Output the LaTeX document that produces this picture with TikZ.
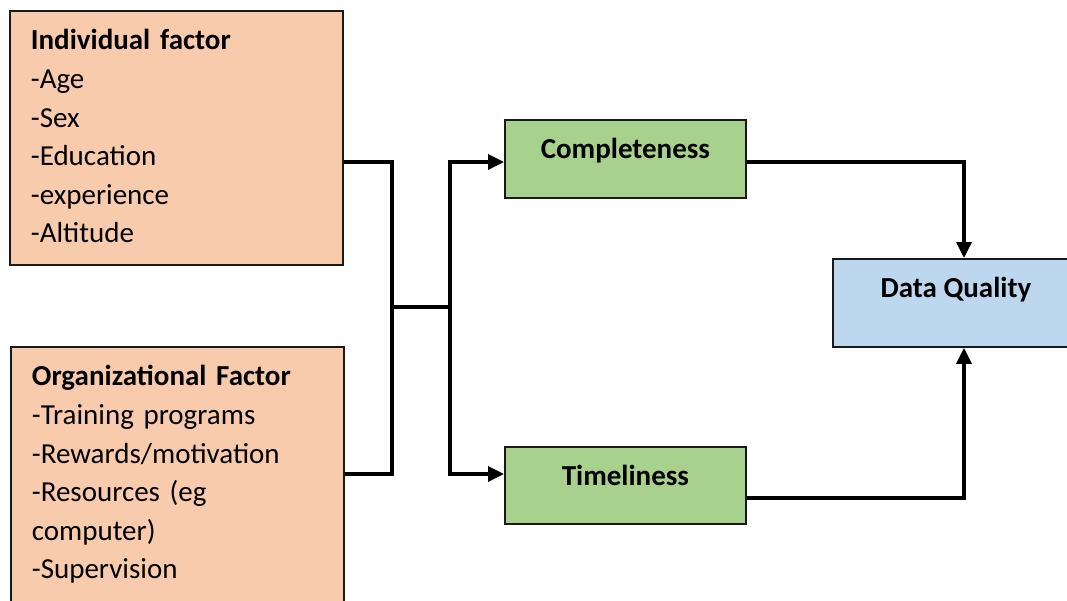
\documentclass[tikz,border=0pt]{standalone}
\usepackage{fontspec}
\setmainfont{Carlito}
\usetikzlibrary{arrows.meta}
\definecolor{factorfill}{HTML}{F8CBAD}
\definecolor{measurefill}{HTML}{A9D18E}
\definecolor{outcomefill}{HTML}{BDD7EE}

\begin{document}
\begin{tikzpicture}[x=1pt, y=-1pt, >={Triangle[length=16pt,width=15pt]},
    % Define the style for the boxes
    box/.style={draw=black!90, line width=1.8pt, inner sep=0pt, anchor=north west,
        font=\fontsize{29}{38.6}\selectfont},
    factor box/.style={box, fill=factorfill, align=left, inner xsep=21pt,
        text width=291pt, text height=39pt},
    measure box/.style={box, fill=measurefill, minimum width=241pt, text height=39pt,
        text depth=38pt, font=\bfseries\fontsize{29}{38.6}\selectfont},
    outcome box/.style={box, fill=outcomefill, minimum width=246pt, text height=39pt,
        text depth=49pt, font=\bfseries\fontsize{29}{38.6}\selectfont},
    % Define the style for the connecting lines
    link/.style={line width=3.4pt},
    connection/.style={link, ->}
]
\clip (0,0) rectangle (1067,600);

% Bus positions
\def\leftbus{392}
\def\rightbus{450}
\def\joinx{964}

% Factor boxes on the left
\node[factor box, text depth=215pt] (indiv) at (9,10)
    {\textbf{Individual factor}\\-Age\\-Sex\\-Education\\-experience\\-Altitude};
\node[factor box, text depth=225pt] (org) at (10,346)
    {\textbf{Organizational Factor}\\-Training programs\\-Rewards/motivation\\-Resources (eg\\computer)\\-Supervision};

% Data quality dimensions
\node[measure box, text depth=39pt] (compl) at (504,119) {Completeness};
\node[measure box] (timel) at (504,446) {Timeliness};

% Outcome
\node[outcome box] (dq) at (832,258) {Data Quality};

% Junction points
\coordinate (lb-top) at (\leftbus,162);
\coordinate (lb-bot) at (\leftbus,474);
\coordinate (lb-mid) at (\leftbus,307);
\coordinate (rb-top) at (\rightbus,162);
\coordinate (rb-bot) at (\rightbus,474);
\coordinate (rb-mid) at (\rightbus,307);
\coordinate (c-turn) at (\joinx,162);
\coordinate (t-turn) at (\joinx,498);

% Join the factors
\draw[link] (indiv.east |- lb-top) -- (lb-top) -- (lb-bot) -- (org.east |- lb-bot);
\draw[link] (lb-mid) -- (rb-mid);

% Split to the dimensions
\draw[connection] (rb-bot) -- (rb-top) -- (compl.west |- rb-top);
\draw[connection] (rb-mid) -- (rb-bot) -- (timel.west |- rb-bot);

% Dimensions to data quality
\draw[connection] (compl.east |- c-turn) -- (c-turn) -- (dq.north -| c-turn);
\draw[connection] (timel.east |- t-turn) -- (t-turn) -- (dq.south -| t-turn);

\end{tikzpicture}
\end{document}
